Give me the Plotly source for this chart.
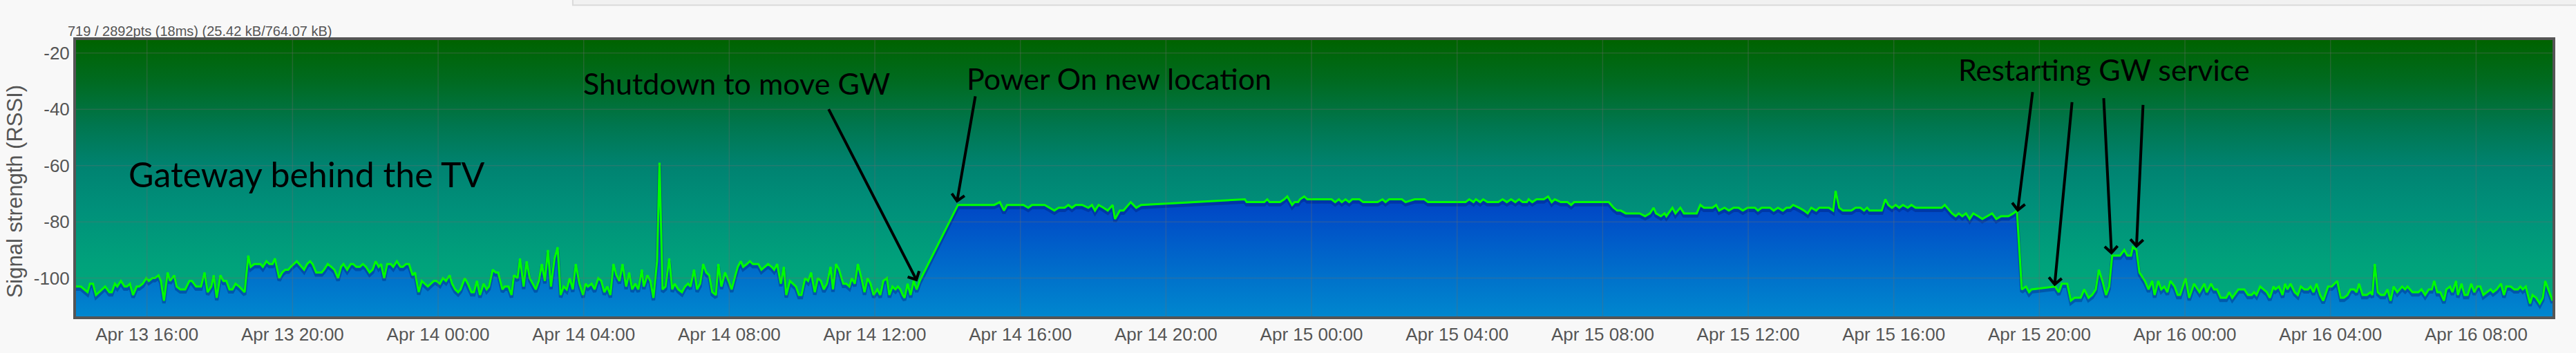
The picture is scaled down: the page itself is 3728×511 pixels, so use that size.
import pandas as pd
import plotly.graph_objects as go

# ---------------- data ----------------
BASE_TIME = "2017-04-13 14:00"   # minutes below are counted from this moment

minutes = [
    3, 11, 22, 26, 31, 36, 51, 58, 62, 67, 71, 77, 83, 87, 92, 97, 103, 107, 113, 119,
    123, 129, 133, 139, 143, 148, 154, 158, 165, 169, 175, 183, 190, 194, 201, 209, 215, 220, 226, 230,
    235, 241, 246, 251, 256, 261, 266, 272, 281, 287, 291, 297, 307, 311, 317, 322, 327, 331, 338, 343,
    348, 353, 357, 367, 379, 384, 389, 393, 399, 408, 412, 418, 424, 429, 435, 440, 444, 450, 456, 460,
    465, 471, 476, 481, 487, 492, 497, 502, 506, 511, 516, 522, 526, 532, 538, 542, 547, 552, 558, 562,
    568, 573, 578, 583, 593, 597, 603, 608, 613, 619, 623, 628, 633, 637, 644, 649, 655, 659, 664, 669,
    675, 680, 684, 690, 695, 699, 706, 710, 716, 721, 725, 731, 735, 741, 746, 751, 761, 766, 771, 776,
    781, 786, 792, 797, 802, 807, 812, 817, 822, 827, 833, 839, 843, 847, 853, 858, 864, 869, 874, 879,
    884, 889, 894, 899, 904, 910, 915, 920, 925, 930, 936, 939, 945, 950, 955, 961, 965, 970, 975, 981,
    986, 990, 996, 1002, 1007, 1012, 1016, 1022, 1027, 1032, 1037, 1042, 1047, 1052, 1058, 1062, 1067, 1073, 1079, 1084,
    1090, 1094, 1099, 1103, 1109, 1114, 1119, 1128, 1133, 1138, 1144, 1150, 1154, 1159, 1165, 1170, 1174, 1180, 1185, 1190,
    1195, 1199, 1205, 1210, 1215, 1221, 1226, 1231, 1236, 1241, 1247, 1251, 1256, 1261, 1268, 1273, 1278, 1282, 1287, 1292,
    1298, 1303, 1308, 1313, 1318, 1324, 1329, 1334, 1340, 1344, 1349, 1354, 1358, 1362, 1366, 1369, 1374, 1379, 1384, 1389,
    1394,
    1457, 1517, 1526, 1533, 1538, 1565, 1573, 1579, 1600, 1608, 1616, 1623, 1633, 1639, 1645, 1651, 1662, 1672, 1678, 1683,
    1689, 1697, 1704, 1712, 1716, 1724, 1730, 1742, 1751, 1759, 1930, 1933, 1962, 1967, 1971, 1988, 1995, 2000, 2008, 2012,
    2018, 2021, 2028, 2033, 2073, 2079, 2085, 2090, 2096, 2102, 2107, 2119, 2125, 2149, 2157, 2162, 2168, 2189, 2195, 2210,
    2226, 2232, 2294, 2300, 2307, 2311, 2318, 2323, 2330, 2348, 2355, 2362, 2369, 2376, 2382, 2388, 2395, 2398, 2404, 2411,
    2423, 2430, 2436, 2441, 2451, 2462, 2468, 2473, 2530, 2538, 2544, 2550, 2558, 2581, 2590, 2598, 2604, 2608, 2616, 2622,
    2625, 2635, 2640, 2648, 2654, 2675, 2681, 2687, 2701, 2707, 2712, 2721, 2728, 2736, 2744, 2751, 2759, 2771, 2776, 2782,
    2796, 2802, 2809, 2817, 2823, 2829, 2834, 2844, 2852, 2858, 2864, 2872, 2877, 2893, 2900, 2904, 2910, 2916, 2930, 2937,
    2945, 2951, 2956, 2960, 2980, 2986, 2991, 2997, 3003, 3009, 3015, 3023, 3029, 3036, 3079, 3084, 3096, 3102, 3107, 3113,
    3119, 3125, 3131, 3139, 3146, 3154, 3162, 3169, 3177, 3189, 3197, 3203,
    3211, 3218, 3223, 3227, 3266, 3272, 3277, 3286, 3292, 3298, 3308, 3314, 3321, 3327, 3333, 3338, 3344, 3350, 3355, 3360,
    3373, 3380, 3385, 3391, 3394, 3400, 3405, 3414, 3420, 3426, 3430, 3436, 3441, 3446, 3451, 3456, 3463, 3468, 3472, 3481,
    3487, 3495, 3504, 3512, 3516, 3523, 3528, 3533, 3539, 3548, 3553, 3558, 3568, 3578, 3584, 3590, 3594, 3598, 3604, 3615,
    3620, 3626, 3629, 3635, 3641, 3645, 3649, 3654, 3661, 3666, 3671, 3677, 3683, 3687, 3692, 3697, 3703, 3708, 3716, 3722,
    3731, 3737, 3742, 3748, 3753, 3759, 3763, 3767, 3773, 3780, 3786, 3789, 3793, 3798, 3803, 3809, 3814, 3819, 3824, 3830,
    3834, 3838, 3843, 3847, 3855, 3860, 3865, 3870, 3876, 3882, 3887, 3891, 3896, 3901, 3907, 3911, 3917, 3921, 3927, 3930,
    3936, 3941, 3946, 3952, 3957, 3962, 3967, 3972, 3978, 3984, 3988, 3994, 4001, 4006, 4010, 4017, 4023, 4029, 4033, 4037,
    4042, 4049, 4053, 4059, 4065, 4070, 4074, 4081, 4086,
]

rssi = [
    -103, -103, -105, -102, -102, -106, -103, -105, -105, -102, -103, -101, -103, -103, -102, -106, -103, -103, -102, -100,
    -101, -100, -100, -99, -101, -108, -98, -101, -99, -103, -104, -104, -101, -101, -103, -103, -98, -105, -103, -99,
    -107, -99, -101, -101, -104, -104, -102, -103, -105, -92, -96, -95, -95, -96, -94, -95, -95, -93, -100, -98,
    -97, -97, -96, -94, -97, -95, -94, -95, -98, -98, -97, -95, -96, -97, -100, -96, -95, -97, -95, -95,
    -96, -96, -95, -96, -98, -97, -94, -96, -95, -100, -95, -95, -96, -94, -96, -96, -95, -95, -99, -98,
    -105, -101, -102, -103, -101, -101, -102, -100, -101, -99, -102, -104, -105, -104, -100, -102, -105, -105, -101, -106,
    -102, -104, -103, -97, -98, -98, -104, -103, -103, -106, -99, -100, -93, -103, -94, -100, -104, -101, -95, -101,
    -90, -103, -93, -89, -106, -103, -104, -100, -104, -95, -102, -106, -102, -103, -102, -104, -100, -101, -105, -103,
    -106, -95, -99, -101, -95, -103, -98, -104, -102, -104, -97, -103, -99, -101, -107, -94, -59, -104, -103, -93,
    -104, -102, -104, -105, -103, -102, -103, -97, -104, -102, -95, -98, -99, -105, -106, -95, -103, -98, -101, -104,
    -99, -96, -94, -96, -95, -94, -95, -95, -97, -96, -95, -96, -97, -95, -102, -96, -106, -101, -102, -103,
    -106, -106, -100, -101, -98, -105, -100, -101, -104, -102, -96, -104, -95, -97, -102, -102, -103, -100, -102, -95,
    -100, -105, -100, -102, -106, -104, -106, -101, -100, -106, -103, -104, -103, -104, -106, -107, -102, -106, -101, -104,
    -101,
    -74, -74, -73, -76, -74, -74, -75, -74, -74, -75, -76, -75, -75, -74, -75, -74, -74, -75, -74, -76,
    -74, -75, -76, -74, -79, -76, -76, -73, -75, -74, -72, -73, -73, -72, -73, -73, -72, -71, -74, -73,
    -73, -72, -71, -72, -72, -73, -72, -73, -72, -73, -72, -72, -73, -73, -72, -73, -72, -72, -73, -72,
    -72, -73, -73, -72, -73, -72, -73, -72, -73, -73, -72, -73, -72, -73, -72, -73, -73, -72, -73, -72,
    -72, -71, -73, -72, -73, -73, -74, -73, -73, -75, -76, -76, -77, -77, -78, -77, -75, -77, -78, -77,
    -78, -75, -77, -75, -77, -77, -74, -75, -75, -74, -76, -75, -76, -75, -75, -76, -75, -75, -76, -75,
    -75, -76, -75, -76, -75, -75, -74, -75, -76, -77, -75, -76, -75, -75, -76, -69, -75, -76, -76, -75,
    -75, -76, -75, -76, -76, -72, -74, -75, -74, -75, -74, -75, -74, -75, -75, -74, -77, -78, -77, -78,
    -77, -79, -77, -78, -79, -78, -77, -79, -78, -78, -77, -76,
    -104, -103, -105, -104, -103, -105, -102, -102, -108, -107, -107, -104, -107, -106, -104, -97, -101, -106, -103, -92,
    -92, -90, -92, -92, -89, -90, -98, -101, -104, -101, -106, -101, -104, -103, -105, -101, -103, -106, -106, -100,
    -107, -102, -105, -102, -105, -102, -104, -104, -107, -107, -105, -107, -104, -104, -106, -106, -105, -106, -103, -105,
    -107, -103, -104, -103, -106, -102, -104, -102, -105, -106, -103, -104, -104, -103, -105, -102, -106, -108, -103, -103,
    -101, -107, -107, -106, -104, -104, -105, -102, -106, -106, -105, -106, -95, -105, -106, -106, -104, -108, -103, -105,
    -104, -103, -104, -103, -105, -105, -105, -104, -106, -104, -104, -101, -105, -105, -108, -104, -103, -105, -101, -106,
    -102, -106, -106, -102, -105, -103, -103, -106, -105, -104, -105, -104, -102, -106, -103, -103, -104, -104, -103, -104,
    -103, -109, -106, -107, -109, -107, -101, -105, -108,
]

x_tick_times = ["2017-04-13 16:00", "2017-04-13 20:00", "2017-04-14 00:00", "2017-04-14 04:00",
                "2017-04-14 08:00", "2017-04-14 12:00", "2017-04-14 16:00", "2017-04-14 20:00",
                "2017-04-15 00:00", "2017-04-15 04:00", "2017-04-15 08:00", "2017-04-15 12:00",
                "2017-04-15 16:00", "2017-04-15 20:00", "2017-04-16 00:00", "2017-04-16 04:00",
                "2017-04-16 08:00"]
x_tick_labels = ["Apr 13 16:00", "Apr 13 20:00", "Apr 14 00:00", "Apr 14 04:00", "Apr 14 08:00",
                 "Apr 14 12:00", "Apr 14 16:00", "Apr 14 20:00", "Apr 15 00:00", "Apr 15 04:00",
                 "Apr 15 08:00", "Apr 15 12:00", "Apr 15 16:00", "Apr 15 20:00", "Apr 16 00:00",
                 "Apr 16 04:00", "Apr 16 08:00"]
y_tick_values = [-100, -80, -60, -40, -20]
y_tick_labels = ["-100", "-80", "-60", "-40", "-20"]
Y_RANGE = [-113.6, -15.4]

# annotation arrows: (head minutes, head value, tail minutes, tail value)
arrows = [
    (1390, -101.2, 1243, -39.6),
    (1455, -73.3, 1486, -35.0),
    (3204, -76.5, 3229, -33.5),
    (3265, -102.9, 3294, -37.1),
    (3359, -91.7, 3346, -35.7),
    (3400, -89.3, 3411, -38.1),
]
notes = [
    ("Gateway behind the TV", 0.0206, 0.516, 50),
    ("Shutdown to move GW", 0.2042, 0.845, 43),
    ("Power On new location", 0.3591, 0.862, 43),
    ("Restarting GW service", 0.7595, 0.893, 43),
]

# ---------------- build ----------------
base = pd.Timestamp(BASE_TIME)
def t(m):
    return base + pd.Timedelta(minutes=m)

times = [t(m) for m in minutes]
x0, x1 = times[0], times[-1]

bg_scale = [[0.0, "#00ad7b"], [0.2, "#00a27b"], [0.4, "#00907a"], [0.55, "#008371"],
            [0.7, "#00764e"], [0.85, "#006b22"], [1.0, "#006300"]]
fill_scale = [[0.0, "#0089cf"], [0.25, "#0074cb"], [0.5, "#005dc9"], [0.72, "#0049c6"], [1.0, "#0038bf"]]

fig = go.Figure()
# background gradient
fig.add_trace(go.Scatter(
    x=[x0, x1, x1, x0, x0], y=[Y_RANGE[0], Y_RANGE[0], Y_RANGE[1], Y_RANGE[1], Y_RANGE[0]],
    mode="lines", line=dict(width=0), fill="toself",
    fillgradient=dict(type="vertical", colorscale=bg_scale, start=Y_RANGE[0], stop=Y_RANGE[1]),
    hoverinfo="skip", showlegend=False))
# base for area
fig.add_trace(go.Scatter(x=times, y=[Y_RANGE[0]] * len(times), mode="lines", line=dict(width=0),
                         hoverinfo="skip", showlegend=False))
# area
fig.add_trace(go.Scatter(
    x=times, y=rssi, mode="lines", line=dict(width=0), fill="tonexty",
    fillgradient=dict(type="vertical", colorscale=fill_scale, start=Y_RANGE[0], stop=max(rssi)),
    hoverinfo="skip", showlegend=False))
# shadow
fig.add_trace(go.Scatter(x=times, y=[v - 0.9 for v in rssi], mode="lines",
                         line=dict(color="rgba(0,25,110,0.35)", width=5),
                         hoverinfo="skip", showlegend=False))
# line
fig.add_trace(go.Scatter(x=times, y=rssi, mode="lines", line=dict(color="#00ff00", width=3),
                         name="RSSI", showlegend=False))

grid_col = "rgba(110,110,110,0.32)"
shapes = []
for tv in x_tick_times:
    shapes.append(dict(type="line", xref="x", yref="paper", x0=tv, x1=tv, y0=0, y1=1,
                       line=dict(color=grid_col, width=1.5), layer="above"))
for yv in y_tick_values:
    shapes.append(dict(type="line", xref="paper", yref="y", x0=0, x1=1, y0=yv, y1=yv,
                       line=dict(color=grid_col, width=1.5), layer="above"))
# top UI panel edge
shapes.append(dict(type="rect", xref="paper", yref="paper", x0=0.2006, x1=1.2, y0=1.126, y1=1.3,
                   fillcolor="#f1f1f1", line=dict(color="#dadada", width=2), layer="above"))

annotations = []
for txt, xp, yp, fs in notes:
    annotations.append(dict(text=txt, xref="paper", yref="paper", x=xp, y=yp, xanchor="left",
                            yanchor="middle", showarrow=False,
                            font=dict(family="Lato", size=fs, color="#000000")))
for hx, hy, tx, ty in arrows:
    annotations.append(dict(text="", x=t(hx), y=hy, ax=t(tx), ay=ty, xref="x", yref="y",
                            axref="x", ayref="y", showarrow=True, arrowhead=4, arrowsize=0.9,
                            arrowwidth=4, arrowcolor="#000000", standoff=0))
annotations.append(dict(text="Signal strength (RSSI)", xref="paper", yref="paper", x=-0.0248, y=0.452,
                        textangle=-90, showarrow=False, xanchor="center", yanchor="middle",
                        font=dict(family="Liberation Sans", size=31, color="#555555")))
annotations.append(dict(text="719 / 2892pts (18ms) (25.42 kB/764.07 kB)", xref="paper", yref="paper",
                        x=-0.0039, y=1.032, xanchor="left", yanchor="middle", showarrow=False,
                        font=dict(family="Liberation Sans", size=20, color="#555555")))

fig.update_layout(
    width=3728, height=511,
    margin=dict(l=110, r=34, t=58, b=48),
    paper_bgcolor="#f8f8f8", plot_bgcolor="#00907a",
    shapes=shapes, annotations=annotations,
    xaxis=dict(range=[x0, x1], tickvals=x_tick_times, ticktext=x_tick_labels, showgrid=False,
               zeroline=False, showline=True, mirror=True, linecolor="#555555", linewidth=4, ticks="",
               tickfont=dict(family="Liberation Sans", size=26, color="#555555")),
    yaxis=dict(range=Y_RANGE, tickvals=y_tick_values, ticktext=y_tick_labels, showgrid=False,
               zeroline=False, showline=True, mirror=True, linecolor="#555555", linewidth=4, ticks="",
               tickfont=dict(family="Liberation Sans", size=26, color="#555555")),
)

fig.write_html("out.html", config={"displayModeBar": False},
               post_script="document.body.style.margin='0';document.body.style.overflow='hidden';")
